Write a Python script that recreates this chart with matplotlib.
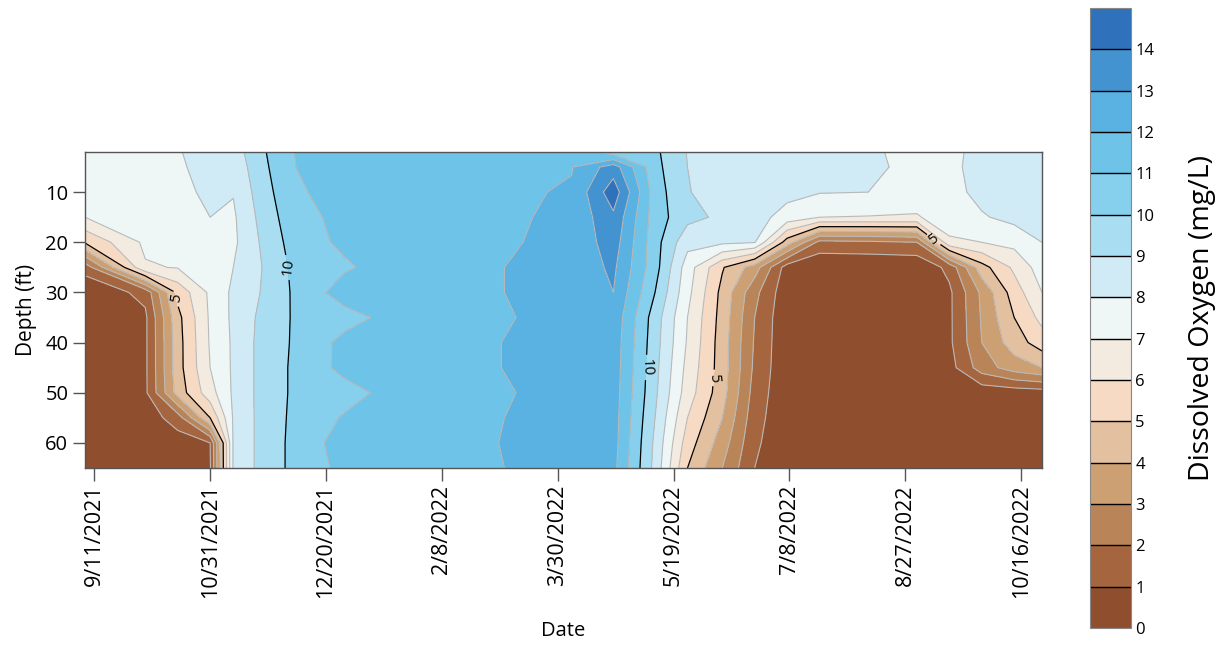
import numpy as np
import pandas as pd
import matplotlib
matplotlib.use("Agg")
import matplotlib.pyplot as plt
import matplotlib.dates as mdates
from matplotlib.ticker import FuncFormatter

plt.rcParams["font.family"] = ["Open Sans", "DejaVu Sans"]

# sampling depths (ft) and sampling dates
depths = [2, 5, 10, 15, 20, 25, 30, 35, 40, 45, 50, 55, 60, 65]
sample_dates = [
    "2021-09-07", "2021-10-03", "2021-10-17", "2021-10-31", "2021-11-10",
    "2021-11-23", "2021-12-07", "2021-12-28", "2022-01-18", "2022-02-15",
    "2022-03-15", "2022-04-05", "2022-04-23", "2022-05-11", "2022-05-25",
    "2022-06-09", "2022-06-23", "2022-07-07", "2022-07-21", "2022-08-11",
    "2022-09-01", "2022-09-15", "2022-09-29", "2022-10-13", "2022-10-25",
]

# dissolved oxygen profiles (mg/L), one list per sampling date, top to bottom
do_2021_09_07 = [7.5, 7.5, 7.4, 7.0, 5.1, 1.4, 0.2, 0.1, 0.1, 0.1, 0.1, 0.1, 0.1, 0.1]
do_2021_10_03 = [7.6, 7.6, 7.5, 7.4, 7.2, 6.9, 1.3, 0.8, 0.8, 0.8, 0.8, 0.4, 0.2, 0.2]
do_2021_10_17 = [7.95, 7.9, 7.8, 7.6, 7.4, 7.05, 5.3, 4.7, 4.6, 4.6, 4.4, 1.5, 0.5, 0.3]
do_2021_10_31 = [8.3, 8.25, 8.15, 8.0, 7.6, 7.3, 7.2, 7.15, 7.1, 7.0, 6.6, 5.0, 1.0, 0.9]
do_2021_11_10 = [8.5, 8.3, 8.05, 7.85, 7.8, 8.0, 8.2, 8.2, 8.15, 8.15, 8.15, 8.1, 8.1, 8.1]
do_2021_11_23 = [9.9, 9.8, 9.6, 9.4, 9.2, 9.05, 9.1, 9.3, 9.4, 9.4, 9.4, 9.4, 9.4, 9.4]
do_2021_12_07 = [11.05, 11.0, 10.9, 10.7, 10.5, 10.3, 10.2, 10.15, 10.15, 10.2, 10.2, 10.25, 10.3, 10.3]
do_2021_12_28 = [11.35, 11.3, 11.3, 11.25, 11.2, 10.85, 11.5, 10.6, 11.3, 11.3, 10.6, 11.1, 11.5, 11.3]
do_2022_01_18 = [11.5, 11.5, 11.5, 11.5, 11.5, 11.5, 11.5, 11.35, 11.5, 11.5, 11.35, 11.5, 11.5, 11.5]
do_2022_02_15 = [11.6, 11.65, 11.7, 11.75, 11.8, 11.8, 11.75, 11.75, 11.8, 11.8, 11.75, 11.75, 11.8, 11.75]
do_2022_03_15 = [11.8, 11.85, 11.9, 11.95, 12.0, 12.08, 12.1, 12.03, 12.1, 12.1, 12.03, 12.1, 12.12, 12.1]
do_2022_04_05 = [11.9, 11.95, 12.1, 12.2, 12.25, 12.3, 12.35, 12.35, 12.35, 12.35, 12.35, 12.35, 12.3, 12.3]
do_2022_04_23 = [10.5, 13.5, 14.6, 13.8, 13.5, 13.2, 13.0, 12.7, 12.6, 12.55, 12.5, 12.45, 12.4, 12.3]
do_2022_05_11 = [10.2, 10.3, 10.5, 10.5, 10.4, 10.4, 10.0, 9.5, 9.4, 9.3, 9.2, 9.0, 8.8, 8.7]
do_2022_05_25 = [8.95, 9.0, 9.05, 9.3, 8.3, 7.5, 7.3, 7.0, 6.9, 6.7, 6.5, 6.0, 5.5, 5.0]
do_2022_06_09 = [8.7, 8.7, 8.6, 8.8, 8.2, 5.1, 4.7, 4.6, 4.5, 4.5, 4.4, 4.0, 3.5, 3.0]
do_2022_06_23 = [8.6, 8.6, 8.5, 8.4, 8.05, 3.5, 2.3, 2.0, 1.9, 1.8, 1.6, 1.4, 1.2, 1.0]
do_2022_07_07 = [8.6, 8.5, 8.3, 7.6, 4.5, 0.5, 0.3, 0.2, 0.2, 0.2, 0.2, 0.2, 0.2, 0.2]
do_2022_07_21 = [8.5, 8.3, 8.05, 7.0, 1.7, 0.1, 0.1, 0.1, 0.1, 0.1, 0.1, 0.1, 0.1, 0.1]
do_2022_08_11 = [8.2, 8.15, 8.0, 6.95, 1.8, 0.1, 0.1, 0.1, 0.1, 0.1, 0.1, 0.1, 0.1, 0.1]
do_2022_09_01 = [7.6, 7.8, 7.6, 6.9, 2.0, 0.1, 0.1, 0.1, 0.1, 0.1, 0.1, 0.1, 0.1, 0.1]
do_2022_09_15 = [7.5, 7.6, 7.65, 7.6, 6.8, 1.3, 0.8, 0.8, 0.8, 0.6, 0.1, 0.1, 0.1, 0.1]
do_2022_09_29 = [8.6, 8.6, 8.3, 7.9, 7.0, 4.6, 3.2, 3.1, 3.0, 2.5, 0.3, 0.1, 0.1, 0.1]
do_2022_10_13 = [8.7, 8.7, 8.6, 8.3, 7.3, 6.2, 5.5, 5.0, 4.5, 3.5, 0.4, 0.2, 0.2, 0.2]
do_2022_10_25 = [8.3, 8.3, 8.3, 8.2, 8.0, 7.5, 7.0, 6.3, 5.5, 4.0, 0.5, 0.2, 0.2, 0.2]

profiles = [
    do_2021_09_07, do_2021_10_03, do_2021_10_17, do_2021_10_31, do_2021_11_10,
    do_2021_11_23, do_2021_12_07, do_2021_12_28, do_2022_01_18, do_2022_02_15,
    do_2022_03_15, do_2022_04_05, do_2022_04_23, do_2022_05_11, do_2022_05_25,
    do_2022_06_09, do_2022_06_23, do_2022_07_07, do_2022_07_21, do_2022_08_11,
    do_2022_09_01, do_2022_09_15, do_2022_09_29, do_2022_10_13, do_2022_10_25,
]

levels = np.arange(0, 16)
level_colors = [
    "#8f4e2d", "#a5653f", "#b98558", "#cca072", "#e2c0a0",
    "#f6dac3", "#f4ebe0", "#eef6f6", "#d0ebf6", "#a9ddf1",
    "#86d0ee", "#6ec3e8", "#5ab2e2", "#4393d0", "#2f72bb",
]
tick_dates = pd.date_range("2021-09-11", periods=9, freq="50D")

# label spots for the 5 and 10 mg/L lines (date, depth)
label_spots = [
    ("2021-12-04", 25), ("2022-05-09", 45),
    ("2021-10-19", 31), ("2022-06-04", 47), ("2022-09-09", 19),
]

x = mdates.date2num(pd.to_datetime(sample_dates).to_pydatetime())
z = np.column_stack(profiles)

fig = plt.figure(figsize=(12.18, 6.52), dpi=100)
ax = fig.add_axes([0.0698, 0.2822, 0.7857, 0.4847])

cf = ax.contourf(x, depths, z, levels=levels, colors=level_colors)
thin = [lv for lv in range(1, 15) if lv not in (5, 10)]
ax.contour(x, depths, z, levels=thin, colors="#b9b9b9", linewidths=0.8)
cs = ax.contour(x, depths, z, levels=[5, 10], colors="black", linewidths=0.9)
spots = [(mdates.date2num(pd.Timestamp(d).to_pydatetime()), dep) for d, dep in label_spots]
ax.clabel(cs, fmt="%d", fontsize=11, manual=spots, inline=True, inline_spacing=4)

ax.set_xlim(x[0], x[-1])
ax.set_ylim(65, 2)
ax.set_yticks([10, 20, 30, 40, 50, 60])
ax.set_xticks(mdates.date2num(tick_dates.to_pydatetime()))


def date_fmt(v, pos):
    d = mdates.num2date(v)
    return f"{d.month}/{d.day}/{d.year}"


ax.xaxis.set_major_formatter(FuncFormatter(date_fmt))
for lab in ax.get_xticklabels():
    lab.set_rotation(90)
    lab.set_fontsize(15.5)
for lab in ax.get_yticklabels():
    lab.set_fontsize(14.5)

ax.tick_params(direction="out", length=9, width=1, color="#555555", pad=3)
for sp in ax.spines.values():
    sp.set_color("#555555")
    sp.set_linewidth(1)

ax.set_xlabel("Date", fontsize=14.5, labelpad=16)
ax.set_ylabel("Depth (ft)", fontsize=15, labelpad=6)

cax = fig.add_axes([0.895, 0.0368, 0.0337, 0.951])
cbar = fig.colorbar(cf, cax=cax, ticks=range(15), drawedges=True)
cbar.dividers.set_color("black")
cbar.dividers.set_linewidth(1)
cbar.outline.set_edgecolor("#888888")
cbar.ax.tick_params(length=0, labelsize=12, pad=3)
cbar.set_label("Dissolved Oxygen (mg/L)", fontsize=20.5, labelpad=24)

fig.savefig("out.png", dpi=100)
